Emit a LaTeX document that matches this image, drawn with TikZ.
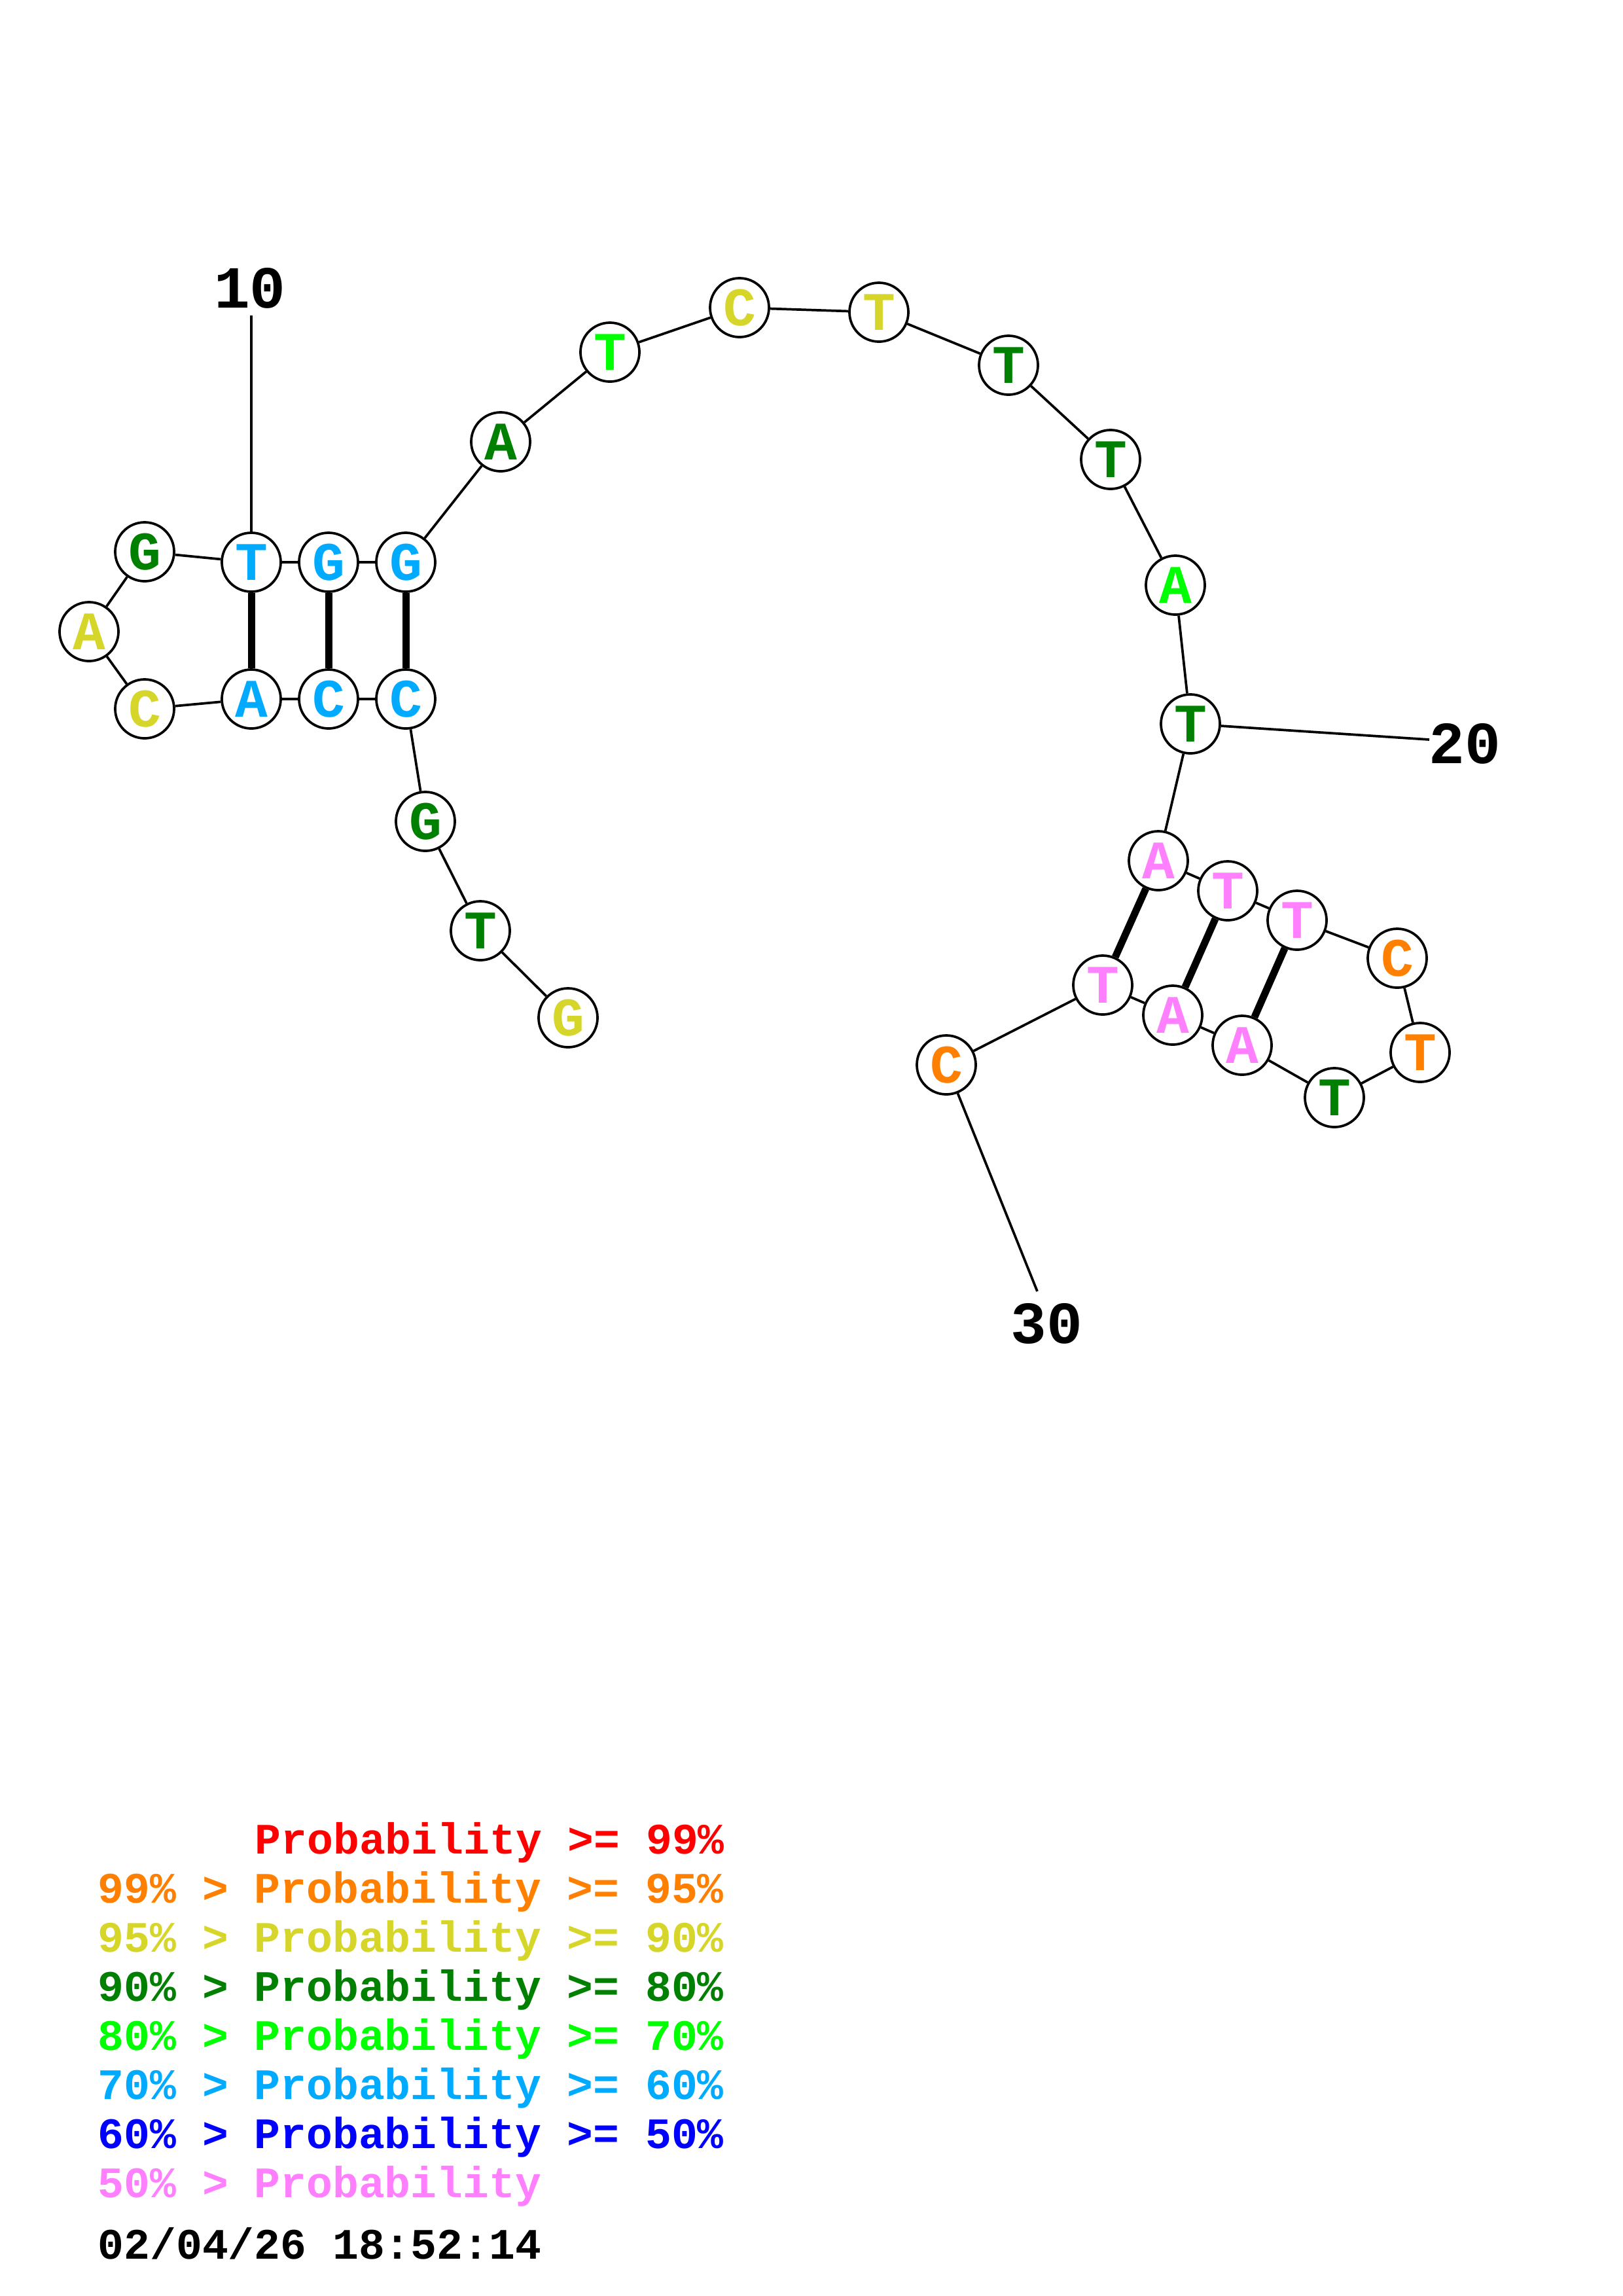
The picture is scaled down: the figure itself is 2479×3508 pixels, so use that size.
\documentclass[tikz,border=0pt]{standalone}
\usepackage{fontspec}
\setmonofont{Liberation Mono}
\definecolor{pRed}{HTML}{FF0000}
\definecolor{pOrange}{HTML}{FF8000}
\definecolor{pYellow}{HTML}{D6D62A}
\definecolor{pDkGreen}{HTML}{008000}
\definecolor{pGreen}{HTML}{00FF00}
\definecolor{pLtBlue}{HTML}{00AAFF}
\definecolor{pBlue}{HTML}{0000FF}
\definecolor{pPink}{HTML}{FF80FF}
\tikzset{
  base/.style={circle, draw=black, line width=0.9pt, fill=white, minimum size=21.7pt, inner sep=0pt,
    font=\fontsize{20}{20}\selectfont\ttfamily\bfseries},
  bb/.style={line width=0.9pt},
  pairline/.style={line width=2.65pt},
  num/.style={inner sep=0pt, font=\fontsize{22}{22}\selectfont\ttfamily\bfseries},
  leg/.style={anchor=base west, inner sep=0pt, font=\fontsize{16}{16}\selectfont\ttfamily\bfseries}
}
\begin{document}
\begin{tikzpicture}[x=0.084712mm, y=-0.084712mm]
\useasboundingbox[fill=white] (0,0) rectangle (2479,3508);
% nucleotides
\node[base, text=pYellow]  (n1)  at (868,1555) {G};
\node[base, text=pDkGreen] (n2)  at (734,1422) {T};
\node[base, text=pDkGreen] (n3)  at (650,1255) {G};
\node[base, text=pLtBlue]  (n4)  at (620,1068) {C};
\node[base, text=pLtBlue]  (n5)  at (502,1068) {C};
\node[base, text=pLtBlue]  (n6)  at (384,1068) {A};
\node[base, text=pYellow]  (n7)  at (221,1083) {C};
\node[base, text=pYellow]  (n8)  at (136,965) {A};
\node[base, text=pDkGreen] (n9)  at (221,843) {G};
\node[base, text=pLtBlue]  (n10) at (384,859) {T};
\node[base, text=pLtBlue]  (n11) at (502,859) {G};
\node[base, text=pLtBlue]  (n12) at (620,859) {G};
\node[base, text=pDkGreen] (n13) at (765,675) {A};
\node[base, text=pGreen]   (n14) at (932,538) {T};
\node[base, text=pYellow]  (n15) at (1130,470) {C};
\node[base, text=pYellow]  (n16) at (1343,477) {T};
\node[base, text=pDkGreen] (n17) at (1541,558) {T};
\node[base, text=pDkGreen] (n18) at (1697,702) {T};
\node[base, text=pGreen]   (n19) at (1796,894) {A};
\node[base, text=pDkGreen] (n20) at (1819,1106) {T};
\node[base, text=pPink]    (n21) at (1770,1315) {A};
\node[base, text=pPink]    (n22) at (1876,1361) {T};
\node[base, text=pPink]    (n23) at (1982,1406) {T};
\node[base, text=pOrange]  (n24) at (2135,1464) {C};
\node[base, text=pOrange]  (n25) at (2170,1608) {T};
\node[base, text=pDkGreen] (n26) at (2039,1677) {T};
\node[base, text=pPink]    (n27) at (1898,1597) {A};
\node[base, text=pPink]    (n28) at (1792,1551) {A};
\node[base, text=pPink]    (n29) at (1685,1505) {T};
\node[base, text=pOrange]  (n30) at (1446,1627) {C};
% backbone
\foreach \a/\b in {1/2,2/3,3/4,4/5,5/6,6/7,7/8,8/9,9/10,10/11,11/12,12/13,13/14,14/15,15/16,16/17,17/18,18/19,19/20,20/21,21/22,22/23,23/24,24/25,25/26,26/27,27/28,28/29,29/30}
  \draw[bb] (n\a) -- (n\b);
% base pairs
\draw[pairline] (n4) -- (n12);
\draw[pairline] (n5) -- (n11);
\draw[pairline] (n6) -- (n10);
\draw[pairline] (n21) -- (n29);
\draw[pairline] (n22) -- (n28);
\draw[pairline] (n23) -- (n27);
% numbering
\coordinate (e10) at (384,482);
\coordinate (e20) at (2184,1130);
\coordinate (e30) at (1585,1973);
\draw[bb] (n10) -- (e10);
\draw[bb] (n20) -- (e20);
\draw[bb] (n30) -- (e30);
\node[num] (l10) at (382,440) {10};
\node[num] (l20) at (2238,1136) {20};
\node[num] (l30) at (1599,2022) {30};
% legend
\node[leg, text=pRed]     (g1) at (389,2832) {Probability >= 99\%};
\node[leg, text=pOrange]  (g2) at (149,2907) {99\% > Probability >= 95\%};
\node[leg, text=pYellow]  (g3) at (149,2982) {95\% > Probability >= 90\%};
\node[leg, text=pDkGreen] (g4) at (149,3057) {90\% > Probability >= 80\%};
\node[leg, text=pGreen]   (g5) at (149,3132) {80\% > Probability >= 70\%};
\node[leg, text=pLtBlue]  (g6) at (149,3207) {70\% > Probability >= 60\%};
\node[leg, text=pBlue]    (g7) at (149,3282) {60\% > Probability >= 50\%};
\node[leg, text=pPink]    (g8) at (149,3357) {50\% > Probability};
\node[leg, text=black]    (dt) at (149,3451) {02/04/26 18:52:14};
\end{tikzpicture}
\end{document}
